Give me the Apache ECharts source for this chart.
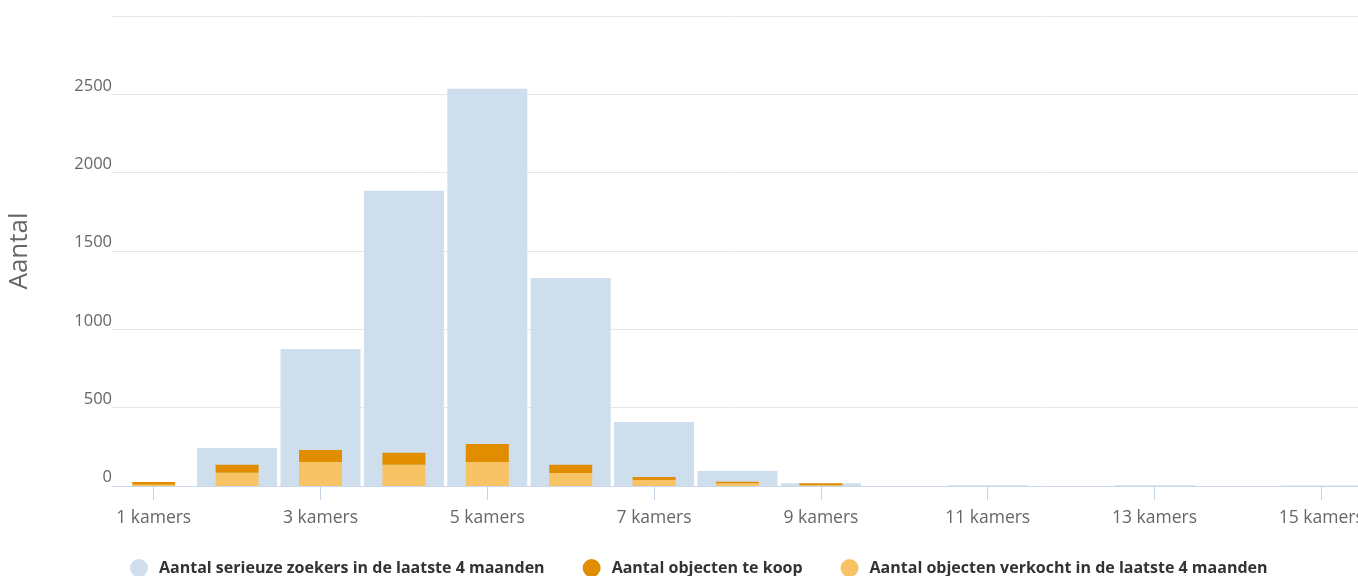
<!DOCTYPE html>
<html><head><meta charset="utf-8">
<script src="https://cdn.jsdelivr.net/npm/echarts@6/dist/echarts.min.js"></script>
<style>html,body{margin:0;padding:0;background:#fff}#c{width:1358px;height:576px}</style>
</head><body><div id="c"></div>
<script>
const categories = ['1 kamers','2 kamers','3 kamers','4 kamers','5 kamers','6 kamers','7 kamers','8 kamers','9 kamers','10 kamers','11 kamers','12 kamers','13 kamers','14 kamers','15 kamers'];
const zoekers = [0, 243, 875, 1884, 2535, 1328, 409, 96, 17, 0, 4, 0, 4, 0, 3];
const teKoop = [17, 51, 77, 77, 115, 53, 19, 10, 12, 0, 0, 0, 0, 0, 0];
const verkocht = [8, 85, 153, 136, 153, 83, 38, 17, 5, 0, 0, 0, 0, 0, 0];
const yTicks = [0, 500, 1000, 1500, 2000, 2500, 3000];

const FONT = 'Open Sans';
const chart = echarts.init(document.getElementById('c'));
chart.setOption({
  animation: false,
  textStyle: {fontFamily: FONT},
  grid: {left: 112, width: 1251, top: 16, height: 470, containLabel: false, outerBoundsMode: 'none'},
  legend: {
    left: 125, top: 554, itemGap: 38, icon: 'circle', itemWidth: 18, itemHeight: 18,
    textStyle: {fontFamily: FONT, fontSize: 16, fontWeight: 'bold', color: '#333', padding: [0, 0, 0, 6]},
    data: ['Aantal serieuze zoekers in de laatste 4 maanden', 'Aantal objecten te koop', 'Aantal objecten verkocht in de laatste 4 maanden']
  },
  xAxis: [{
    type: 'category', data: categories,
    axisLine: {lineStyle: {color: '#ccd6eb'}},
    axisTick: {show: true, alignWithLabel: true, interval: 1, length: 14, lineStyle: {color: '#c5d2e8', width: 1}},
    axisLabel: {interval: 1, fontFamily: FONT, fontSize: 17.5, color: '#666', margin: 23}
  }, {
    type: 'category', data: categories, show: false
  }],
  yAxis: {
    type: 'value', min: 0, max: 3000, interval: 500,
    name: 'Aantal', nameLocation: 'middle', nameGap: 79,
    nameTextStyle: {fontFamily: FONT, fontSize: 26, color: '#666'},
    axisLine: {show: false}, axisTick: {show: false},
    splitLine: {lineStyle: {color: '#e6e6e6'}},
    axisLabel: {
      fontFamily: FONT, fontSize: 16.5, color: '#666', margin: 0, verticalAlign: 'bottom',
      formatter: v => (v === yTicks[yTicks.length - 1] ? '' : String(v))
    }
  },
  series: [{
    name: 'Aantal serieuze zoekers in de laatste 4 maanden', type: 'bar', xAxisIndex: 0,
    data: zoekers, barWidth: 80, itemStyle: {color: '#cfdeed'}, z: 1
  }, {
    name: 'Aantal objecten verkocht in de laatste 4 maanden', type: 'bar', xAxisIndex: 1,
    stack: 's', data: verkocht, barWidth: 43, itemStyle: {color: '#f8c365'}, z: 3
  }, {
    name: 'Aantal objecten te koop', type: 'bar', xAxisIndex: 1,
    stack: 's', data: teKoop, barWidth: 43, itemStyle: {color: '#e08e00'}, z: 3
  }]
});
</script></body></html>
